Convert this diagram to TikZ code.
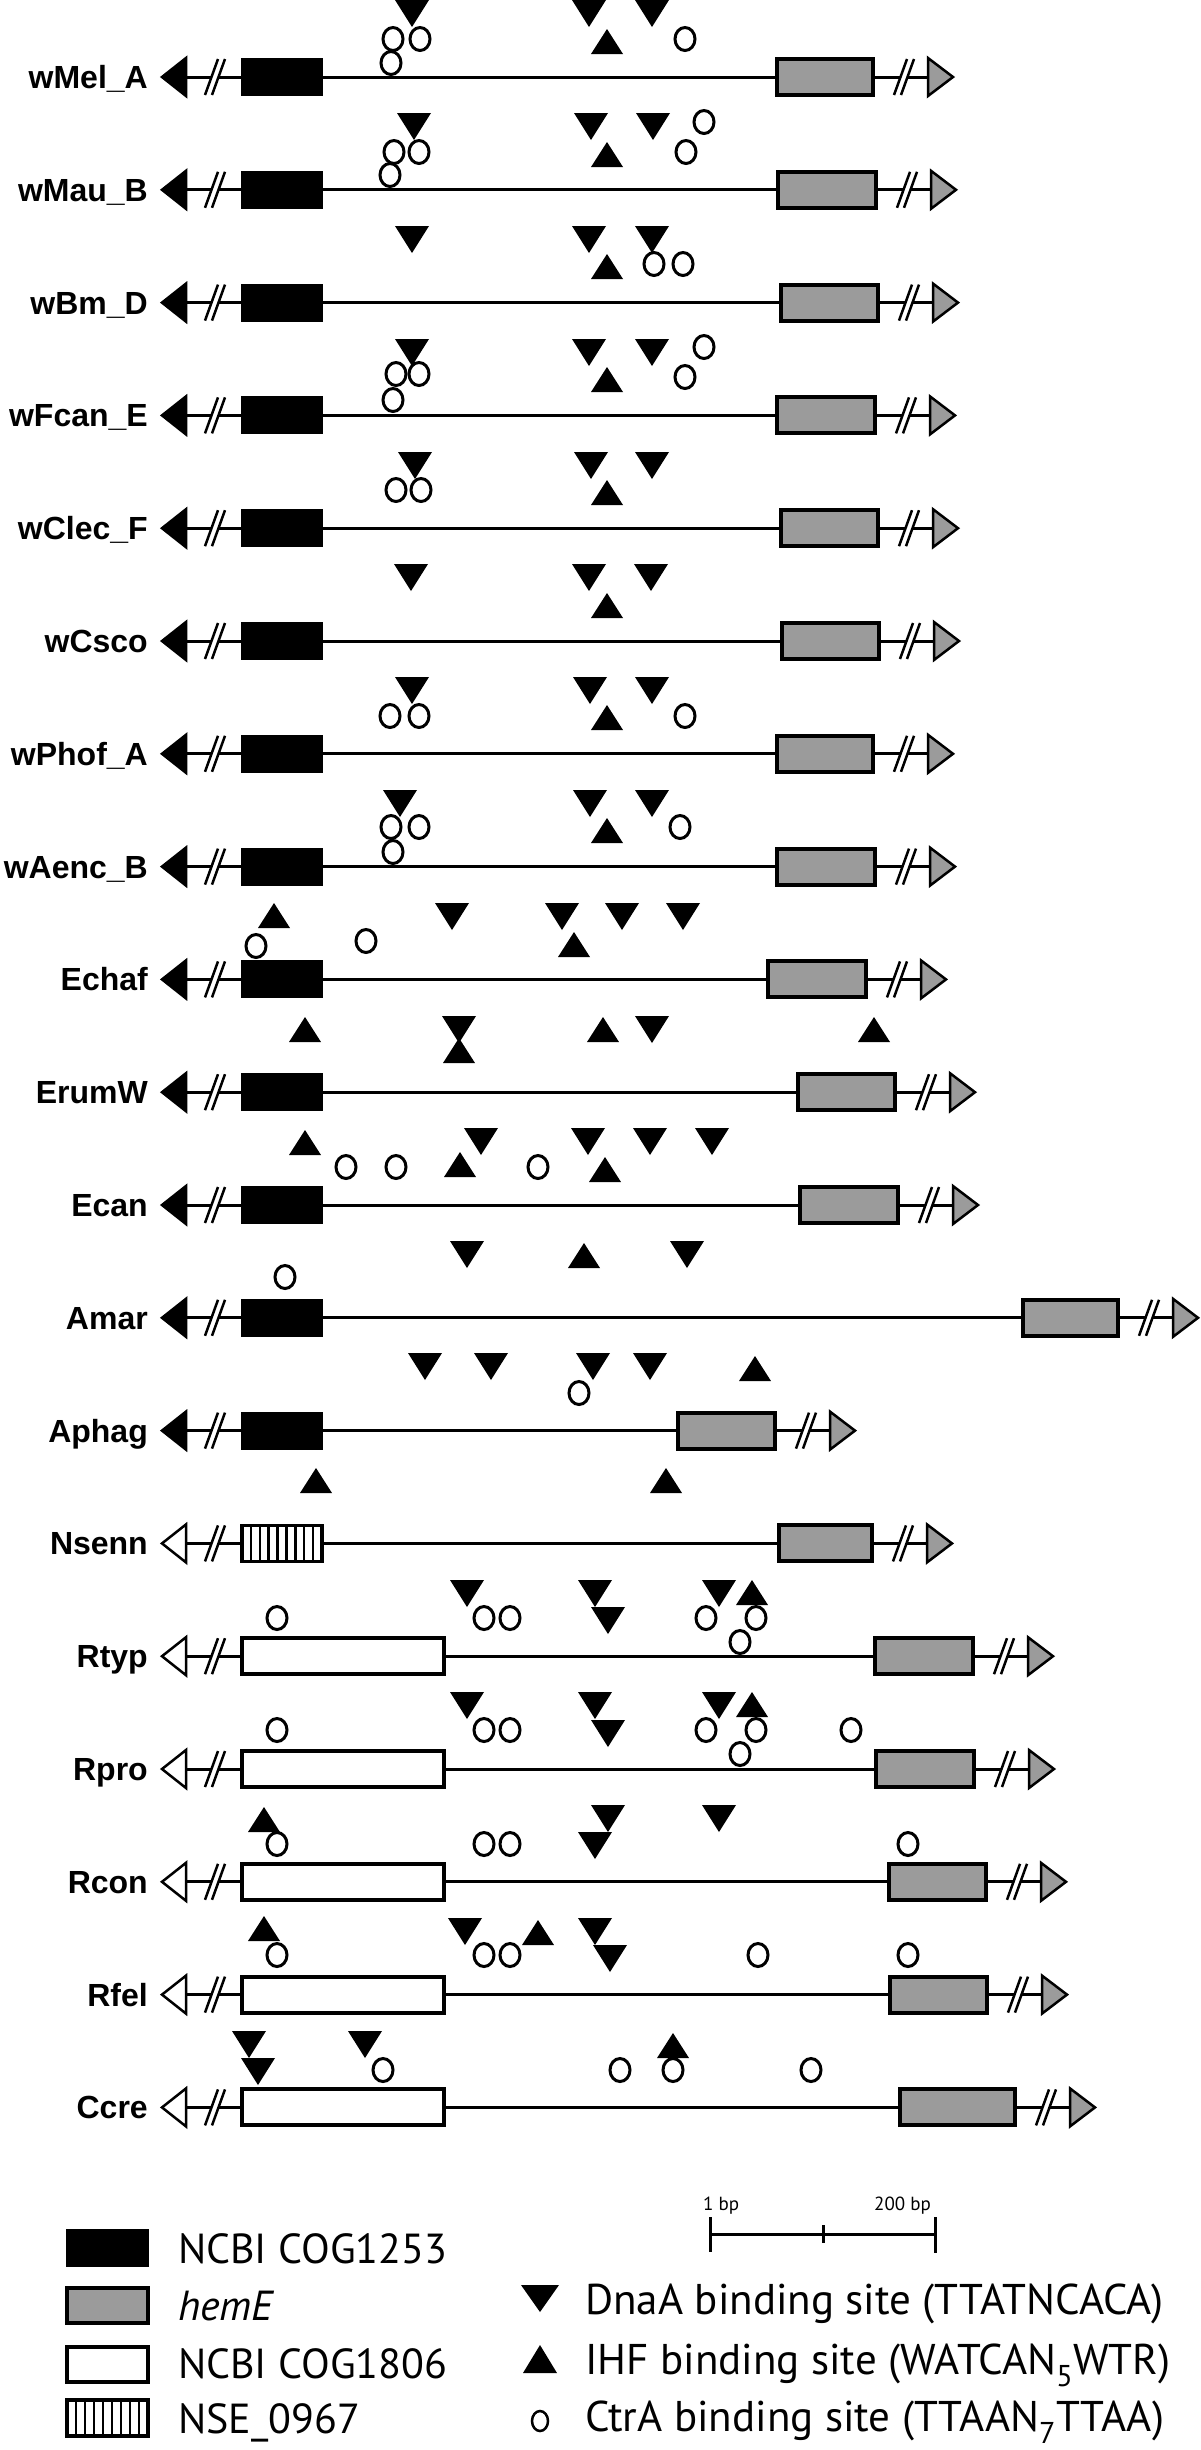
\documentclass[tikz,border=0pt]{standalone}
\usepackage{fontspec}
\setmainfont{PT Sans}
\newfontfamily\lblfont{Liberation Sans}
\definecolor{boxgray}{RGB}{155,155,155}
\tikzset{
  mainline/.style={line width=3pt},
  arrowout/.style={line width=2.5pt,draw=black,line join=miter},
  graybox/.style={line width=4pt,fill=boxgray,draw=black},
  blackbox/.style={line width=2pt,fill=black,draw=black},
  whitebox/.style={line width=4pt,fill=white,draw=black},
  hatchbox/.style={line width=3.5pt,fill=white,draw=black},
  slashline/.style={line width=2.5pt},
  rowlabel/.style={anchor=base east,inner sep=0pt,font=\lblfont\bfseries\fontsize{32}{36}\selectfont},
  legtext/.style={anchor=base west,inner sep=0pt,font=\fontsize{42}{48}\selectfont},
  legtextr/.style={anchor=base west,inner sep=0pt,font=\fontsize{43}{48}\selectfont},
  sitemark/.style={line width=3pt,draw=black,fill=white},
}
% break mark
\newcommand\brk[2]{%
  \fill[white] (#1,#2+18) -- (#1+13,#2-18) -- (#1+20,#2-18) -- (#1+7,#2+18) -- cycle;
  \draw[slashline] (#1,#2+18) -- (#1+13,#2-18) (#1+7,#2+18) -- (#1+20,#2-18);}
% one gene row: name, y, label, left arrow fill, left box style, left box right x, gray left, gray right
\newcommand\gRow[8]{%
  \draw[mainline] (186,#2) -- (#8+55,#2);
  \draw[arrowout,fill=#4] (162,#2) -- (186,#2-19) -- (186,#2+19) -- cycle;
  \brk{205}{#2}
  \draw[#5] (242,#2-18) rectangle (#6,#2+18);
  \draw[graybox] (#7,#2-18) rectangle (#8,#2+18);
  \brk{#8+21}{#2}
  \draw[arrowout,fill=boxgray] (#8+55,#2-19) -- (#8+80,#2) -- (#8+55,#2+19) -- cycle;
  \node[rowlabel] (#1) at (148,#2+11.5) {#3};}
\newcommand\dnT[2]{\fill (#1-17,#2) -- (#1+17,#2) -- (#1,#2+27) -- cycle;}
\newcommand\upT[2]{\fill (#1,#2) -- (#1+16,#2+25) -- (#1-16,#2+25) -- cycle;}
\newcommand\ctrA[2]{\draw[sitemark] (#1,#2) ellipse [x radius=10, y radius=11.5];}
\begin{document}
\begin{tikzpicture}[x=1pt,y=-1pt,line join=miter]
\useasboundingbox (0,0) rectangle (1200,2450);
% ---------------- rows ----------------
\gRow{wmel}{77}{wMel\_A}{black}{blackbox}{322}{777}{873}
\gRow{wmau}{189.8}{wMau\_B}{black}{blackbox}{322}{778}{876}
\gRow{wbm}{302.6}{wBm\_D}{black}{blackbox}{322}{781}{878}
\gRow{wfcan}{415.4}{wFcan\_E}{black}{blackbox}{322}{777}{875}
\gRow{wclec}{528.2}{wClec\_F}{black}{blackbox}{322}{781}{878}
\gRow{wcsco}{641}{wCsco}{black}{blackbox}{322}{782}{879}
\gRow{wphof}{753.8}{wPhof\_A}{black}{blackbox}{322}{777}{873}
\gRow{waenc}{866.6}{wAenc\_B}{black}{blackbox}{322}{777}{875}
\gRow{echaf}{979.4}{Echaf}{black}{blackbox}{322}{768}{866}
\gRow{erumw}{1092.2}{ErumW}{black}{blackbox}{322}{798}{895}
\gRow{ecan}{1205}{Ecan}{black}{blackbox}{322}{800}{898}
\gRow{amar}{1317.8}{Amar}{black}{blackbox}{322}{1023}{1118}
\gRow{aphag}{1430.6}{Aphag}{black}{blackbox}{322}{678}{775}
\gRow{nsenn}{1543.4}{Nsenn}{white}{hatchbox}{322}{779}{872}
\foreach \k in {1,...,8}{\draw[line width=2.5pt] (242+\k*80/9,1525.4) -- (242+\k*80/9,1561.4);}
\gRow{rtyp}{1656.2}{Rtyp}{white}{whitebox}{444}{875}{973}
\gRow{rpro}{1769}{Rpro}{white}{whitebox}{444}{876}{974}
\gRow{rcon}{1881.8}{Rcon}{white}{whitebox}{444}{889}{986}
\gRow{rfel}{1994.6}{Rfel}{white}{whitebox}{444}{890}{987}
\gRow{ccre}{2107.4}{Ccre}{white}{whitebox}{444}{900}{1015}
% ---------------- binding sites ----------------
% wMel_A
\dnT{412}{0}\dnT{589}{0}\dnT{652}{0}\upT{607}{29}
\ctrA{393}{39}\ctrA{420}{39}\ctrA{391}{63}\ctrA{685}{39}
% wMau_B
\dnT{414}{113}\dnT{591}{113}\dnT{653}{113}\upT{607}{142}
\ctrA{394}{152}\ctrA{419}{152}\ctrA{390}{175}\ctrA{686}{152}\ctrA{704}{122}
% wBm_D
\dnT{412}{226}\dnT{589}{226}\dnT{652}{226}\upT{607}{254}
\ctrA{654}{264}\ctrA{683}{264}
% wFcan_E
\dnT{412}{339}\dnT{589}{339}\dnT{652}{339}\upT{607}{367}
\ctrA{396}{374}\ctrA{419}{374}\ctrA{393}{400}\ctrA{685}{377}\ctrA{704}{347}
% wClec_F
\dnT{415}{452}\dnT{591}{452}\dnT{652}{452}\upT{607}{480}
\ctrA{396}{490}\ctrA{421}{490}
% wCsco
\dnT{411}{564}\dnT{589}{564}\dnT{651}{564}\upT{607}{593}
% wPhof_A
\dnT{412}{677}\dnT{590}{677}\dnT{652}{677}\upT{607}{705}
\ctrA{390}{716}\ctrA{419}{716}\ctrA{685}{716}
% wAenc_B
\dnT{400}{790}\dnT{590}{790}\dnT{652}{790}\upT{607}{818}
\ctrA{391}{827}\ctrA{419}{827}\ctrA{393}{852}\ctrA{680}{827}
% Echaf
\upT{274}{903}\dnT{452}{903}\dnT{562}{903}\dnT{622}{903}\dnT{683}{903}\upT{574}{932}
\ctrA{256}{946}\ctrA{366}{941}
% ErumW
\upT{305}{1017}\dnT{459}{1016}\upT{459}{1038}\upT{603}{1017}\dnT{652}{1016}\upT{874}{1017}
% Ecan
\upT{305}{1130}\upT{460}{1152}\dnT{481}{1128}\dnT{588}{1128}\dnT{650}{1128}\dnT{712}{1128}\upT{605}{1157}
\ctrA{346}{1167}\ctrA{396}{1167}\ctrA{538}{1167}
% Amar
\dnT{467}{1241}\upT{584}{1243}\dnT{687}{1241}
\ctrA{285}{1277}
% Aphag
\dnT{425}{1353}\dnT{491}{1353}\dnT{593}{1353}\dnT{650}{1353}\upT{755}{1356}
\ctrA{579}{1393}
% Nsenn
\upT{316}{1468}\upT{666}{1468}
% Rtyp
\dnT{467}{1580}\dnT{595}{1580}\dnT{608}{1607}\dnT{719}{1580}\upT{752}{1580}
\ctrA{277}{1618}\ctrA{484}{1618}\ctrA{510}{1618}\ctrA{706}{1618}\ctrA{756}{1618}\ctrA{740}{1642}
% Rpro
\dnT{467}{1692}\dnT{595}{1692}\dnT{608}{1720}\dnT{719}{1692}\upT{752}{1692}
\ctrA{277}{1730}\ctrA{484}{1730}\ctrA{510}{1730}\ctrA{706}{1730}\ctrA{756}{1730}\ctrA{740}{1754}\ctrA{851}{1730}
% Rcon
\upT{264}{1807}\dnT{608}{1805}\dnT{595}{1832}\dnT{719}{1805}
\ctrA{277}{1844}\ctrA{484}{1844}\ctrA{510}{1844}\ctrA{908}{1844}
% Rfel
\upT{264}{1916}\dnT{465}{1918}\upT{538}{1920}\dnT{595}{1918}\dnT{610}{1945}
\ctrA{277}{1955}\ctrA{484}{1955}\ctrA{510}{1955}\ctrA{758}{1955}\ctrA{908}{1955}
% Ccre
\dnT{249}{2031}\dnT{258}{2058}\dnT{365}{2031}\upT{673}{2033}
\ctrA{383}{2070}\ctrA{620}{2070}\ctrA{673}{2070}\ctrA{811}{2070}
% ---------------- legend ----------------
\draw[blackbox] (67,2230) rectangle (148,2266);
\draw[graybox] (67,2288) rectangle (148,2323);
\draw[whitebox] (67,2347) rectangle (148,2382);
\draw[hatchbox] (67,2400) rectangle (148,2436);
\foreach \k in {1,...,8}{\draw[line width=2.5pt] (67+\k*81/9,2400) -- (67+\k*81/9,2436);}
\node[legtext] (lcog1) at (178,2263) {NCBI COG1253};
\node[legtext] (lheme) at (178,2320) {\itshape hemE};
\node[legtext] (lcog2) at (178,2378) {NCBI COG1806};
\node[legtext] (lnse) at (178,2433) {NSE\_0967};
\fill (521,2285) -- (559,2285) -- (540,2312) -- cycle;
\fill (540,2345) -- (557,2373) -- (523,2373) -- cycle;
\draw[line width=2.5pt] (540,2421) ellipse [x radius=8, y radius=10];
\node[legtextr] (ldna) at (585,2314) {DnaA binding site (TTATNCACA)};
\node[legtextr] (lihf) at (585,2374) {IHF binding site (WATCAN\textsubscript{5}WTR)};
\node[legtextr] (lctr) at (585,2431) {CtrA binding site (TTAAN\textsubscript{7}TTAA)};
% scale bar
\coordinate (sb1) at (710,2234);
\coordinate (sb2) at (935,2234);
\draw[line width=3pt] (sb1) -- (sb2);
\draw[line width=3pt] (710,2217) -- (710,2252);
\draw[line width=3pt] (823,2225) -- (823,2243);
\draw[line width=3pt] (935,2217) -- (935,2253);
\node[anchor=base west,inner sep=0pt,font=\fontsize{19}{21}\selectfont] (sbl) at (703,2210) {1 bp};
\node[anchor=base west,inner sep=0pt,font=\fontsize{19}{21}\selectfont] (sbr) at (874,2210) {200 bp};
\end{tikzpicture}
\end{document}
